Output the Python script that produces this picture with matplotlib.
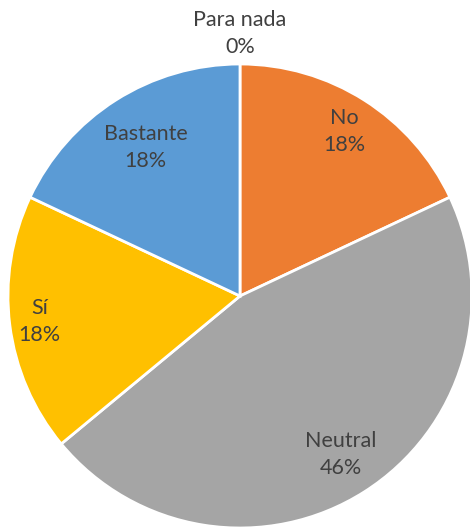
import numpy as np
import matplotlib.pyplot as plt

categories = ["Para nada", "No", "Neutral", "Sí", "Bastante"]
shares = [0, 18, 46, 18, 18]
colors = ["#4472C4", "#ED7D31", "#A5A5A5", "#FFC000", "#5B9BD5"]
# distance of each label from the centre, in units of the radius
label_r = [1.13, 0.84, 0.81, 0.87, 0.76]

W, H = 470, 531
fig = plt.figure(figsize=(W / 100, H / 100), dpi=100)
cx, cy, rad = 240, 296, 232
ax = fig.add_axes([(cx - rad) / W, (H - cy - rad) / H, 2 * rad / W, 2 * rad / H])

wedges, _ = ax.pie(shares, colors=colors, startangle=90, counterclock=False,
                   radius=1.0, wedgeprops=dict(edgecolor="white", linewidth=2))

for w, name, val, r in zip(wedges, categories, shares, label_r):
    mid = np.deg2rad((w.theta1 + w.theta2) / 2)
    ax.text(r * np.cos(mid), r * np.sin(mid), f"{name}\n{val}%",
            ha="center", va="center", fontsize=15.5, family="Lato",
            color="#404040", linespacing=1.45)

ax.set_xlim(-1, 1)
ax.set_ylim(-1, 1)
ax.set_aspect("equal")
ax.axis("off")
fig.savefig("out.png", dpi=100)
